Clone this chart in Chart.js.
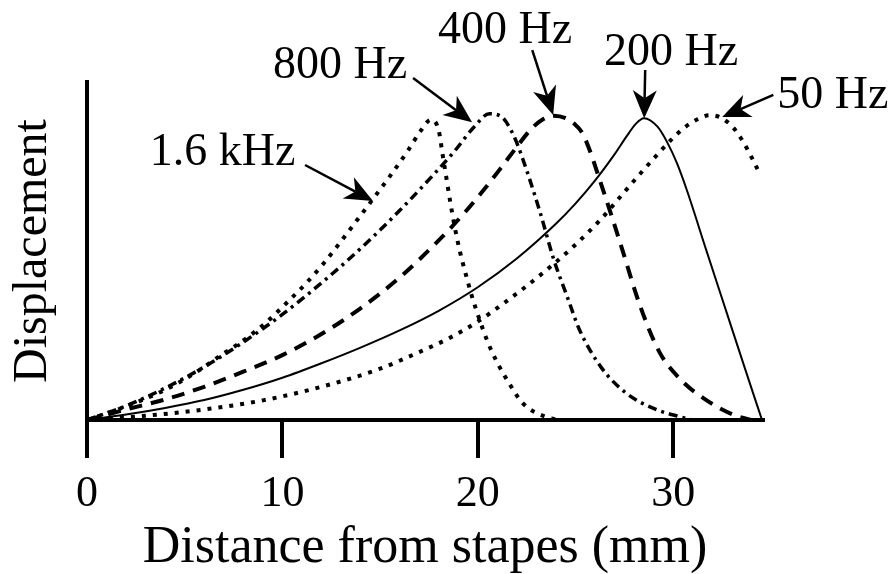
<!DOCTYPE html>
<html>
<head>
<meta charset="utf-8">
<script src="https://cdn.jsdelivr.net/npm/chart.js@4.4.1/dist/chart.umd.min.js"></script>
<style>
  html, body { margin: 0; padding: 0; background: #fff; }
  #wrap { width: 894px; height: 574px; }
</style>
</head>
<body>
<div id="wrap"><canvas id="grafica" width="894" height="574"></canvas></div>
<script>
// Distancia desde el estribo (mm) y desplazamiento relativo
const x1600 = [0, 2, 4, 5.5, 6.8, 8.2, 9.2, 10.2, 11.2, 12.1, 13, 13.75, 14.6, 15.45, 16.4, 17.1, 17.6, 18.0, 18.2, 18.4, 18.6, 18.85, 19.1, 19.4, 19.7, 20.0, 20.5, 21, 21.5, 22.3, 23.5, 24.2];
const y1600 = [0, 0.045, 0.1, 0.155, 0.212, 0.273, 0.325, 0.387, 0.452, 0.518, 0.592, 0.656, 0.729, 0.803, 0.89, 0.96, 0.995, 0.96, 0.88, 0.8, 0.72, 0.63, 0.555, 0.48, 0.41, 0.35, 0.26, 0.19, 0.133, 0.056, 0.01, 0];

const x800 = [0, 2, 4, 6, 8, 10, 12, 14, 16, 17.75, 18.8, 19.8, 20.6, 21.3, 21.7, 22.0, 22.5, 23.2, 23.9, 24.6, 25.2, 26.3, 27.6, 29.2, 30.4, 31];
const y800 = [0, 0.047, 0.106, 0.176, 0.258, 0.35, 0.454, 0.568, 0.694, 0.814, 0.89, 0.97, 1.015, 1.0, 0.96, 0.918, 0.828, 0.686, 0.53, 0.405, 0.3, 0.176, 0.089, 0.033, 0.01, 0];

const x400 = [0, 2, 4, 6, 8, 10, 12, 14, 16, 18, 19.3, 20.3, 21.1, 22, 22.7, 23.3, 23.9, 24.5, 24.9, 25.4, 26.4, 27.3, 28.3, 29.3, 30.4, 31.7, 33.1, 34];
const y400 = [0, 0.035, 0.068, 0.11, 0.16, 0.215, 0.285, 0.37, 0.472, 0.595, 0.685, 0.762, 0.828, 0.905, 0.962, 0.995, 1.008, 1.0, 0.984, 0.945, 0.765, 0.585, 0.38, 0.225, 0.133, 0.066, 0.017, 0];

const x200 = [0, 2, 4, 6, 8, 10, 12, 14, 16, 18, 20, 22, 24, 25, 26, 27, 27.6, 28.1, 28.5, 29.2, 29.7, 30.2, 30.7, 31.7, 32.7, 33.7, 34.55];
const y200 = [0, 0.018, 0.04, 0.066, 0.1, 0.14, 0.188, 0.24, 0.297, 0.362, 0.44, 0.535, 0.65, 0.717, 0.793, 0.88, 0.938, 0.982, 1.0, 0.972, 0.92, 0.85, 0.762, 0.562, 0.364, 0.166, 0];

const x50 = [0, 3, 6, 9, 12, 15, 17, 18.5, 19.9, 21.5, 23.2, 24.9, 26.3, 27.3, 28.3, 29.2, 30, 30.6, 31.2, 31.85, 32.5, 33.1, 33.6, 34.1, 34.46];
const y50 = [0, 0.014, 0.035, 0.065, 0.11, 0.17, 0.225, 0.27, 0.322, 0.395, 0.48, 0.575, 0.665, 0.74, 0.815, 0.88, 0.935, 0.97, 0.995, 1.01, 1.0, 0.967, 0.92, 0.86, 0.812];

const xTicks = [0, 10, 20, 30];

// Etiquetas de frecuencia con flecha (coordenadas en unidades de datos)
const etiquetas = ['1.6 kHz', '800 Hz', '400 Hz', '200 Hz', '50 Hz'];
const etiquetaX = [6.94, 12.95, 21.4, 29.9, 38.17];
const etiquetaY = [0.845, 1.133, 1.249, 1.176, 1.034];
const flechaDesdeX = [11.16, 16.69, 22.79, 28.57, 35.13];
const flechaDesdeY = [0.845, 1.133, 1.226, 1.16, 1.077];
const flechaHastaX = [14.64, 19.71, 23.86, 28.52, 32.51];
const flechaHastaY = [0.726, 0.987, 1.011, 1.0, 1.004];

const FUENTE = '"Liberation Serif", "Times New Roman", serif';

const puntos = (xs, ys) => xs.map((v, i) => ({ x: v, y: ys[i] }));

function dibujarFlecha(ctx, x0, y0, x1, y1) {
    const ang = Math.atan2(y1 - y0, x1 - x0);
    const largo = 28, ancho = 12, muesca = 8;
    const bx = x1 - Math.cos(ang) * (largo - muesca);
    const by = y1 - Math.sin(ang) * (largo - muesca);
    ctx.lineWidth = 2.5;
    ctx.beginPath();
    ctx.moveTo(x0, y0);
    ctx.lineTo(bx, by);
    ctx.stroke();
    // punta tipo "stealth"
    const px = -Math.sin(ang), py = Math.cos(ang);
    const baseX = x1 - Math.cos(ang) * largo, baseY = y1 - Math.sin(ang) * largo;
    ctx.beginPath();
    ctx.moveTo(x1, y1);
    ctx.lineTo(baseX + px * ancho, baseY + py * ancho);
    ctx.lineTo(bx, by);
    ctx.lineTo(baseX - px * ancho, baseY - py * ancho);
    ctx.closePath();
    ctx.fill();
}

const pluginEtiquetas = {
    id: 'etiquetasFrecuencia',
    afterDatasetsDraw(chart) {
        const { ctx, scales: { x, y } } = chart;
        ctx.save();
        ctx.fillStyle = '#000';
        ctx.strokeStyle = '#000';
        ctx.font = '46px ' + FUENTE;
        ctx.textAlign = 'center';
        ctx.textBaseline = 'alphabetic';
        etiquetas.forEach((txt, i) => {
            ctx.fillText(txt, x.getPixelForValue(etiquetaX[i]), y.getPixelForValue(etiquetaY[i]));
            dibujarFlecha(ctx,
                x.getPixelForValue(flechaDesdeX[i]), y.getPixelForValue(flechaDesdeY[i]),
                x.getPixelForValue(flechaHastaX[i]), y.getPixelForValue(flechaHastaY[i]));
        });
        ctx.restore();
    }
};

const estiloLinea = (dash, ancho) => ({
    borderColor: '#000',
    borderWidth: ancho,
    borderDash: dash,
    borderCapStyle: 'butt',
    pointRadius: 0,
    fill: false,
    cubicInterpolationMode: 'monotone',
    clip: false
});

const ctx = document.getElementById('grafica').getContext('2d');
new Chart(ctx, {
    type: 'line',
    data: {
        datasets: [
            { label: '1.6 kHz', data: puntos(x1600, y1600), ...estiloLinea([4, 7], 4) },
            { label: '800 Hz', data: puntos(x800, y800), ...estiloLinea([9, 5, 3, 5], 3.5) },
            { label: '400 Hz', data: puntos(x400, y400), ...estiloLinea([13, 9], 4) },
            { label: '200 Hz', data: puntos(x200, y200), ...estiloLinea([], 2) },
            { label: '50 Hz', data: puntos(x50, y50), ...estiloLinea([4, 7], 4) }
        ]
    },
    options: {
        responsive: false,
        animation: false,
        devicePixelRatio: 1,
        layout: { padding: { left: 0, top: 82, right: 131, bottom: 0 } },
        scales: {
            x: {
                type: 'linear',
                min: 0,
                max: 34.6,
                afterFit: s => { s.height = 154; },
                afterBuildTicks: s => { s.ticks = xTicks.map(v => ({ value: v })); },
                ticks: {
                    color: '#000',
                    padding: 10,
                    autoSkip: false,
                    maxRotation: 0,
                    font: { family: FUENTE, size: 44 }
                },
                grid: {
                    drawOnChartArea: false,
                    drawTicks: true,
                    tickLength: 38,
                    tickWidth: 4,
                    color: '#000',
                    lineWidth: 4
                },
                border: { display: true, color: '#000', width: 4 },
                title: {
                    display: true,
                    text: 'Distance from stapes (mm)',
                    color: '#000',
                    padding: { top: 0, bottom: 0 },
                    font: { family: FUENTE, size: 52, lineHeight: 1.0 }
                }
            },
            y: {
                type: 'linear',
                min: 0,
                max: 1.12,
                afterFit: s => { s.width = 87; },
                ticks: { display: false },
                grid: { display: false, drawTicks: false },
                border: { display: true, color: '#000', width: 4 },
                title: {
                    display: true,
                    text: 'Displacement',
                    color: '#000',
                    padding: { top: 7, bottom: 0 },
                    font: { family: FUENTE, size: 48, lineHeight: 1.1 }
                }
            }
        },
        plugins: {
            legend: { display: false },
            tooltip: { enabled: false }
        }
    },
    plugins: [pluginEtiquetas]
});
</script>
</body>
</html>
